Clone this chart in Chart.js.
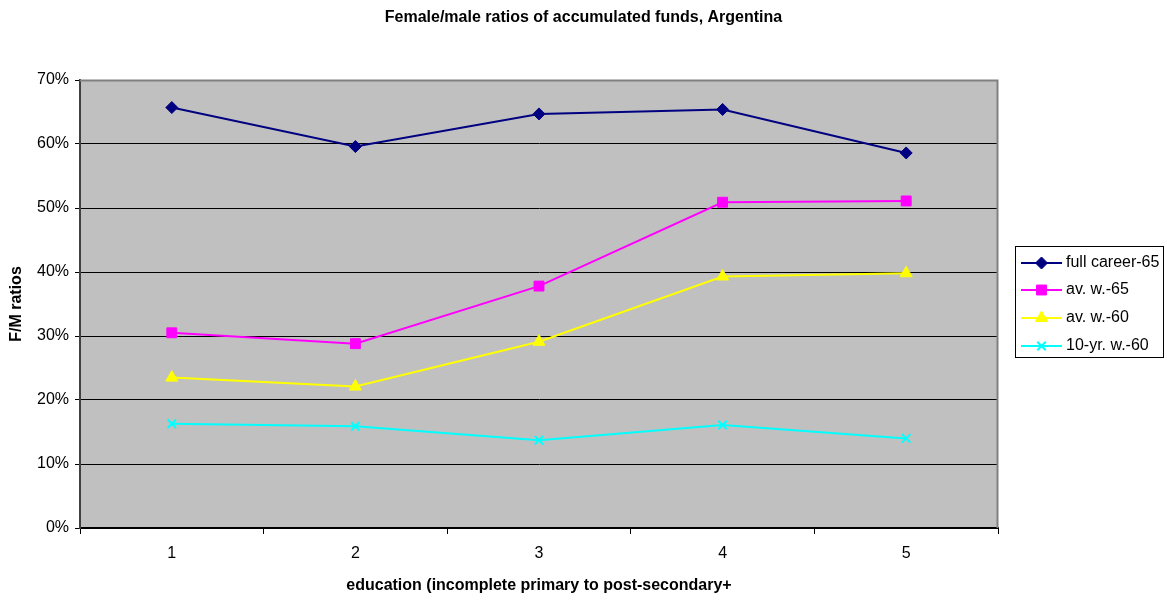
<!DOCTYPE html>
<html>
<head>
<meta charset="utf-8">
<title>Female/male ratios of accumulated funds, Argentina</title>
<script src="https://cdn.jsdelivr.net/npm/chart.js@4/dist/chart.umd.min.js"></script>
<style>
  html, body { margin: 0; padding: 0; background: #ffffff; }
  #wrap { width: 1167px; height: 601px; }
</style>
</head>
<body>
<div id="wrap"><canvas id="chart" width="1167" height="601"></canvas></div>
<script>
// Education levels (1 = incomplete primary ... 5 = post-secondary+)
const categories = ['1', '2', '3', '4', '5'];

// Female/male ratios of accumulated pension funds
const fullCareer65 = [0.657, 0.596, 0.647, 0.654, 0.586];
const avW65        = [0.305, 0.288, 0.378, 0.509, 0.511];
const avW60        = [0.235, 0.221, 0.291, 0.393, 0.398];
const tenYrW60     = [0.163, 0.159, 0.137, 0.161, 0.140];

const seriesNames = ['full career-65', 'av. w.-65', 'av. w.-60', '10-yr. w.-60'];
const yTicks = [0, 0.1, 0.2, 0.3, 0.4, 0.5, 0.6, 0.7];

const FONT = "'Liberation Sans', Arial, Helvetica, sans-serif";

function series(label, data, color, style, radius, width) {
  return {
    label, data,
    borderColor: color,
    backgroundColor: color,
    pointBackgroundColor: color,
    pointBorderColor: color,
    pointStyle: style,
    pointRadius: radius,
    pointHoverRadius: radius,
    pointBorderWidth: style === 'crossRot' ? 2 : 1,
    borderWidth: width,
    tension: 0,
    fill: false
  };
}

// Grey plotting surface behind the grid, grey frame on top and right
const plotBackground = {
  id: 'plotBackground',
  beforeDraw(chart) {
    const { ctx, chartArea: a } = chart;
    ctx.save();
    ctx.fillStyle = '#c0c0c0';
    ctx.fillRect(a.left, a.top, a.right - a.left, a.bottom - a.top);
    ctx.restore();
  },
  beforeDatasetsDraw(chart) {
    const { ctx, chartArea: a } = chart;
    ctx.save();
    ctx.strokeStyle = '#808080';
    ctx.lineWidth = 2;
    ctx.beginPath();
    ctx.moveTo(a.left, a.top + 0.5);
    ctx.lineTo(a.right - 0.5, a.top + 0.5);
    ctx.lineTo(a.right - 0.5, a.bottom);
    ctx.stroke();
    ctx.restore();
  }
};

// Boxed legend: line segment with marker, then label
const boxedLegend = {
  id: 'boxedLegend',
  afterDraw(chart) {
    const { ctx } = chart;
    const box = { x: 1015.5, y: 246.5, w: 148, h: 111 };
    ctx.save();
    ctx.fillStyle = '#ffffff';
    ctx.fillRect(box.x, box.y, box.w, box.h);
    ctx.strokeStyle = '#000000';
    ctx.lineWidth = 1;
    ctx.strokeRect(box.x, box.y, box.w, box.h);
    const rows = [263, 290, 318, 346];
    chart.data.datasets.forEach((ds, i) => {
      const y = rows[i];
      ctx.strokeStyle = ds.borderColor;
      ctx.lineWidth = ds.borderWidth;
      ctx.beginPath();
      ctx.moveTo(1021, y);
      ctx.lineTo(1062, y);
      ctx.stroke();
      ctx.fillStyle = ds.pointBackgroundColor;
      ctx.strokeStyle = ds.pointBorderColor;
      ctx.lineWidth = ds.pointBorderWidth;
      Chart.helpers.drawPoint(ctx, { pointStyle: ds.pointStyle, radius: ds.pointRadius, rotation: 0, borderWidth: ds.pointBorderWidth }, 1041.5, y);
      ctx.fillStyle = '#000000';
      ctx.font = '16px ' + FONT;
      ctx.textBaseline = 'middle';
      ctx.textAlign = 'left';
      ctx.fillText(ds.label, 1066, y);
    });
    ctx.restore();
  }
};

new Chart(document.getElementById('chart'), {
  type: 'line',
  data: {
    labels: categories,
    datasets: [
      series(seriesNames[0], fullCareer65, '#000080', 'rectRot', 6, 2),
      series(seriesNames[1], avW65, '#ff00ff', 'rect', 7, 2),
      series(seriesNames[2], avW60, '#ffff00', 'triangle', 7, 2),
      series(seriesNames[3], tenYrW60, '#00ffff', 'crossRot', 6, 2)
    ]
  },
  options: {
    responsive: false,
    animation: false,
    events: [],
    layout: { padding: 0 },
    plugins: {
      legend: { display: false },
      tooltip: { enabled: false },
      title: {
        display: true,
        text: 'Female/male ratios of accumulated funds, Argentina',
        color: '#000000',
        font: { family: FONT, size: 16, weight: 'bold', lineHeight: 1.2 },
        padding: { top: 8, bottom: 52.8 }
      }
    },
    scales: {
      x: {
        type: 'category',
        offset: true,
        grid: { offset: true, drawOnChartArea: false, drawTicks: true, tickLength: 6, color: '#000000', lineWidth: 1 },
        border: { display: true, color: '#000000', width: 2 },
        ticks: { color: '#000000', font: { family: FONT, size: 16 }, padding: 10, maxRotation: 0 },
        title: {
          display: true,
          text: 'education (incomplete primary to post-secondary+',
          color: '#000000',
          font: { family: FONT, size: 16, weight: 'bold', lineHeight: 1.2 },
          padding: { top: 0, bottom: 6 }
        },
        afterFit(scale) { scale.height = 73; }
      },
      y: {
        min: 0,
        max: 0.7,
        afterBuildTicks(scale) { scale.ticks = yTicks.map(v => ({ value: v })); },
        grid: { color: '#000000', lineWidth: 1, drawTicks: true, tickLength: 5 },
        border: { display: true, color: '#404040', width: 2 },
        ticks: {
          color: '#000000',
          font: { family: FONT, size: 16 },
          padding: 6,
          callback: v => Math.round(v * 100) + '%'
        },
        title: {
          display: true,
          text: 'F/M ratios',
          color: '#000000',
          font: { family: FONT, size: 16, weight: 'bold', lineHeight: 1.2 },
          padding: { top: 7, bottom: 0 }
        },
        afterFit(scale) { scale.width = 80; }
      },
      side: {
        position: 'right',
        display: true,
        grid: { display: false, drawTicks: false },
        border: { display: false },
        ticks: { display: false },
        afterFit(scale) { scale.width = 169; }
      }
    }
  },
  plugins: [plotBackground, boxedLegend]
});
</script>
</body>
</html>
